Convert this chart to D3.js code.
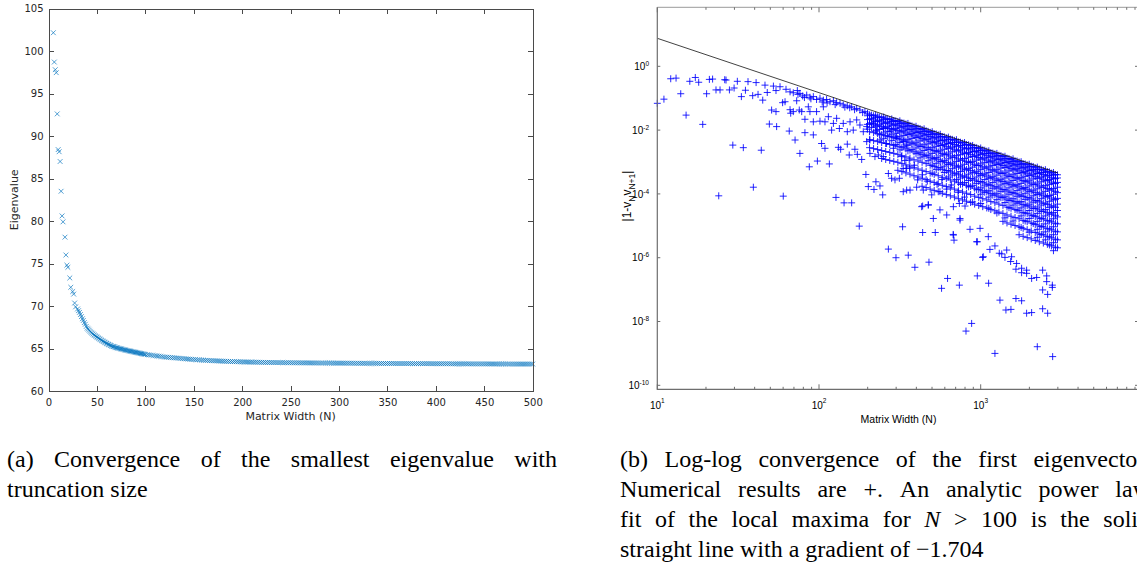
<!DOCTYPE html>
<html>
<head>
<meta charset="utf-8">
<script src="https://cdn.jsdelivr.net/npm/d3@7"></script>
<style>
  html, body { margin: 0; padding: 0; background: #fff; }
  svg { display: block; }
</style>
</head>
<body>
<svg id="fig" width="1137" height="572"></svg>
<script>
// ---------------- Panel (a): smallest eigenvalue against matrix width ----------------
const eigWidth = [5,6,7,8,9,10,11,12,13,14,15,17,18,19,20,22,23,25,26,27,28,30,
  31,32,33,34,35,36,37,38,39,40,41,42,43,44,45,46,47,48,49,50,
  51,52,53,54,55,56,57,58,59,60,61,62,63,64,65,66,67,68,69,70,
  71,72,73,74,75,76,77,78,79,80,81,82,83,84,85,86,87,88,89,90,
  91,92,93,94,95,96,97,98,99,100,
  102,104,106,108,110,112,114,116,118,120,
  122,124,126,128,130,132,134,136,138,140,142,144,146,148,150,
  152,154,156,158,160,162,164,166,168,170,172,174,176,178,180,182,184,186,188,190,192,194,196,198,200,
  202,204,206,208,210,212,214,216,218,220,222,224,226,228,230,232,234,236,238,240,242,244,246,248,250,
  252,254,256,258,260,262,264,266,268,270,272,274,276,278,280,282,284,286,288,290,292,294,296,298,300,
  302,304,306,308,310,312,314,316,318,320,322,324,326,328,330,332,334,336,338,340,342,344,346,348,350,
  352,354,356,358,360,362,364,366,368,370,372,374,376,378,380,382,384,386,388,390,392,394,396,398,400,
  402,404,406,408,410,412,414,416,418,420,422,424,426,428,430,432,434,436,438,440,442,444,446,448,450,
  452,454,456,458,460,462,464,466,468,470,472,474,476,478,480,482,484,486,488,490,492,494,496,498,500];

const eigValue = [102.15,98.7,97.8,97.45,92.6,88.4,88.15,87.0,83.5,80.6,79.9,78.1,76.0,74.8,74.55,73.3,72.2,71.7,71.4,70.35,69.9,69.65,
  69.45,69.25,69.0,68.75,68.5,68.3,68.05,67.85,67.6,67.4,67.28,67.15,67.02,66.9,66.8,66.7,66.6,66.52,66.43,66.35,
  66.27,66.19,66.11,66.03,65.95,65.88,65.81,65.74,65.67,65.6,65.54,65.48,65.42,65.36,65.3,65.26,65.22,65.18,65.14,65.1,
  65.07,65.04,65.01,64.98,64.95,64.92,64.89,64.86,64.83,64.8,64.77,64.75,64.72,64.7,64.67,64.65,64.62,64.6,64.57,64.55,
  64.52,64.5,64.47,64.45,64.42,64.4,64.37,64.35,64.32,64.3,
  64.27,64.24,64.21,64.18,64.15,64.12,64.09,64.06,64.03,64.00,
  63.98,63.96,63.94,63.92,63.90,63.88,63.86,63.84,63.82,63.80,63.78,63.76,63.74,63.72,63.70,
  63.69,63.67,63.66,63.64,63.63,63.61,63.60,63.58,63.57,63.56,63.55,63.54,63.53,63.52,63.51,63.50,63.49,63.48,63.47,63.46,63.46,63.45,63.44,63.43,63.42,
  63.42,63.41,63.41,63.40,63.40,63.39,63.39,63.38,63.38,63.37,63.37,63.36,63.36,63.36,63.35,63.35,63.35,63.34,63.34,63.34,63.34,63.33,63.33,63.33,63.33,
  63.32,63.32,63.32,63.32,63.31,63.31,63.31,63.31,63.31,63.30,63.30,63.30,63.30,63.30,63.29,63.29,63.29,63.29,63.29,63.29,63.28,63.28,63.28,63.28,63.28,
  63.28,63.28,63.27,63.27,63.27,63.27,63.27,63.26,63.26,63.26,63.26,63.26,63.26,63.25,63.25,63.25,63.25,63.25,63.25,63.25,63.24,63.24,63.24,63.24,63.24,
  63.24,63.24,63.24,63.23,63.23,63.23,63.23,63.23,63.23,63.23,63.23,63.23,63.22,63.22,63.22,63.22,63.22,63.22,63.22,63.22,63.22,63.22,63.21,63.21,63.21,
  63.21,63.21,63.21,63.21,63.21,63.21,63.21,63.20,63.20,63.20,63.20,63.20,63.20,63.20,63.20,63.20,63.20,63.19,63.19,63.19,63.19,63.19,63.19,63.19,63.19,
  63.19,63.19,63.18,63.18,63.18,63.18,63.18,63.18,63.18,63.18,63.18,63.18,63.17,63.17,63.17,63.17,63.17,63.17,63.17,63.17,63.17,63.17,63.17,63.17,63.17];

const eigXTicks = [0,50,100,150,200,250,300,350,400,450,500];
const eigYTicks = [60,65,70,75,80,85,90,95,100,105];

// ---------------- Panel (b): eigenvector residual, log10 N vs log10 |1 - v_N v_N+1| ----------------
// isolated points for small N
const smallWidthPoints = [[1.000,-1.16],[1.041,-1.03],[1.083,-0.39],[1.116,-0.37],[1.145,-0.86],[1.178,-1.53],[1.201,-0.47],
  [1.235,-0.35],[1.256,-0.50],[1.281,-1.82],[1.305,-0.86],[1.322,-0.41],[1.342,-0.40],[1.363,-0.74],[1.388,-0.74],[1.380,-4.06],
  [1.417,-0.42],[1.425,-0.43],[1.446,-0.74],[1.467,-2.47],[1.475,-0.68],[1.495,-0.47],[1.520,-0.95],[1.532,-2.55],[1.545,-0.75],
  [1.561,-0.48],[1.590,-0.92],[1.594,-3.79],[1.611,-0.51],[1.623,-0.88],[1.643,-2.63]];

// upper row approaching the envelope
const upperRowPoints = [[1.666,-0.59],[1.718,-0.62],[1.759,-0.64],[1.680,-0.82],[1.734,-0.76],[1.796,-0.72],[1.821,-0.80],
  [1.841,-0.83],[1.866,-0.76],[1.882,-0.85],[1.899,-0.93],[1.924,-0.90],[1.944,-0.97],[1.965,-0.95],[1.985,-1.04],[2.006,-1.00],
  [2.027,-1.06],[2.047,-1.04],[2.068,-1.11],[2.089,-1.08],[2.109,-1.14],[2.130,-1.16],[2.150,-1.21],[2.175,-1.24],[2.202,-1.27],
  [2.233,-1.32],[2.253,-1.37],[2.284,-1.42],[1.870,-0.88],[1.950,-1.02],[2.020,-1.12],[2.100,-1.20],[2.160,-1.28],[2.220,-1.36],
  [2.270,-1.45],[1.910,-0.98],[2.050,-1.15],[2.190,-1.30]];

const secondRowPoints = [[1.652,-1.06],[1.707,-1.37],[1.734,-1.42],[1.775,-1.14],[1.790,-1.11],[1.821,-1.36],[1.825,-1.47],[1.841,-1.42],
  [1.862,-1.08],[1.878,-1.37],[1.893,-1.42],[1.913,-1.66],[1.934,-1.27],[1.944,-1.42],[1.965,-1.74],[1.985,-1.42],[2.006,-1.72],
  [2.027,-1.27],[2.037,-1.74],[2.058,-1.58],[2.078,-2.00],[2.089,-1.79],[2.109,-1.63],[2.126,-1.95],[2.150,-1.79],[2.175,-2.05],
  [2.192,-1.74],[2.212,-2.00],[2.233,-1.68],[2.253,-1.84],[2.274,-2.05],[2.295,-1.89],[2.315,-2.31],[2.336,-1.79],[2.356,-2.00],
  [2.377,-2.31],[2.398,-1.95],[2.418,-2.42],[2.439,-2.05],[2.460,-2.57],[2.480,-2.21],[2.501,-2.62],[2.521,-2.36],[2.542,-2.47]];

const lowerScatterPoints = [[1.693,-1.81],[1.738,-1.89],[1.816,-2.03],[1.852,-2.31],[1.882,-2.73],[1.913,-2.08],[1.940,-3.15],
  [1.965,-2.15],[1.990,-2.97],[2.016,-2.42],[2.037,-2.57],[2.064,-3.06],[2.120,-2.54],[2.134,-2.60],[2.175,-2.44],[2.187,-2.78],
  [2.222,-2.60],[2.237,-2.76],[2.264,-2.92],[2.295,-2.36],[2.315,-2.73],[2.346,-2.83],[2.367,-2.78],[2.398,-2.83],[2.429,-3.36],
  [2.449,-3.51],[2.470,-3.56],[2.497,-3.51],[2.521,-3.20],[2.542,-3.20],[2.558,-2.94],[2.290,-3.39],[2.352,-3.62],[2.377,-3.75],
  [2.394,-4.03],[2.305,-3.77],[2.340,-3.86],[2.521,-3.93],[2.542,-3.88],
  [2.51,-2.83],[2.53,-2.95],[2.56,-3.19],[2.59,-3.10],[2.61,-3.56],[2.64,-3.40],[2.67,-3.60],[2.70,-3.35],[2.73,-3.70],
  [2.76,-3.55],[2.79,-3.85],[2.82,-3.72],[2.86,-3.95],[2.90,-4.10],[2.95,-4.25],[3.00,-4.30],[3.05,-4.45],[3.10,-4.60],
  [3.15,-4.75],[3.20,-4.85],[3.25,-5.05],[3.30,-5.20]];

const strandPoints = [[2.563,-3.88],[2.604,-3.79],[2.645,-3.88],[2.697,-4.03],[2.748,-3.93],[2.635,-4.40],[2.676,-4.35],
  [2.748,-4.50],[2.831,-4.40],[2.868,-4.30],[2.903,-4.38],[2.831,-5.29],[2.707,-4.77],[2.790,-4.66],[2.872,-4.77],[2.996,-5.08],
  [3.047,-5.34],[3.130,-5.88],[3.161,-5.76],[3.191,-5.97],[3.222,-6.18],[3.253,-6.33],[3.284,-6.49],[3.408,-6.75],[2.975,-5.50],
  [3.016,-5.97],[2.641,-4.38],[2.676,-4.34],[2.830,-5.27],[2.835,-5.45],[2.872,-4.82],[2.934,-5.11],[2.979,-5.50],[3.012,-5.99],
  [3.057,-5.74],[3.088,-5.63],[3.115,-5.86],[3.150,-5.99],[3.185,-6.12],[3.218,-6.36],[3.253,-6.47],[3.284,-6.39],[3.315,-6.65],
  [3.346,-6.62],[3.383,-6.39],[3.408,-6.57],[3.443,-6.86],[3.443,-6.93],[3.414,-7.15],[3.383,-7.01]];

const deepPoints = [[1.779,-4.07],[2.105,-4.11],[2.155,-4.28],[2.202,-4.28],[2.249,-5.01],[2.517,-5.03],[2.429,-5.73],
  [2.476,-6.00],[2.552,-5.92],[2.641,-5.21],[2.719,-5.21],[2.593,-6.30],[2.680,-6.14],[2.758,-6.96],[2.795,-6.65],[2.868,-6.86],
  [2.979,-6.57],[3.049,-6.80],[3.119,-7.33],[3.156,-7.64],[3.187,-7.62],[3.218,-7.28],[3.253,-7.35],[3.284,-7.74],[3.315,-7.72],
  [3.383,-7.60],[3.414,-7.74],[2.909,-8.30],[2.944,-8.06],[3.088,-9.00],[3.350,-8.79],[3.445,-9.10]];

// dense band under the local-maxima envelope: one column per log10 N
const bandLogN = [2.300,2.325,2.350,2.375,2.400,2.425,2.450,2.475,2.500,2.525,2.550,2.575,2.600,2.625,2.650,2.675,
  2.700,2.725,2.750,2.775,2.800,2.825,2.850,2.875,2.900,2.925,2.950,2.975,3.000,3.025,3.050,3.075,
  3.100,3.125,3.150,3.175,3.200,3.225,3.250,3.275,3.300,3.325,3.350,3.375,3.400,3.425,3.450,3.475];
const bandLogR = [
  [-1.47,-1.55,-1.67,-1.82,-1.97],
  [-1.53,-1.63,-1.77,-1.92],
  [-1.53,-1.61,-1.73,-1.88,-2.03],
  [-1.59,-1.69,-1.83,-1.98,-2.15],
  [-1.59,-1.67,-1.79,-1.94,-2.09,-2.27],
  [-1.65,-1.75,-1.89,-2.04,-2.21],
  [-1.65,-1.73,-1.85,-2.00,-2.15,-2.33],
  [-1.71,-1.81,-1.95,-2.10,-2.27,-2.45],
  [-1.71,-1.79,-1.91,-2.06,-2.21,-2.39],
  [-1.78,-1.88,-2.02,-2.17,-2.34,-2.52],
  [-1.79,-1.87,-1.99,-2.14,-2.29,-2.47,-2.65],
  [-1.87,-1.97,-2.11,-2.26,-2.43,-2.61],
  [-1.88,-1.96,-2.08,-2.23,-2.38,-2.56,-2.74],
  [-1.95,-2.05,-2.19,-2.34,-2.51,-2.69,-2.87],
  [-1.96,-2.04,-2.16,-2.31,-2.46,-2.64,-2.82],
  [-2.04,-2.14,-2.28,-2.43,-2.60,-2.78,-2.96],
  [-2.05,-2.13,-2.25,-2.40,-2.55,-2.73,-2.91,-3.10],
  [-2.12,-2.22,-2.36,-2.51,-2.68,-2.86,-3.04,-3.24],
  [-2.13,-2.21,-2.33,-2.48,-2.63,-2.81,-2.99,-3.18],
  [-2.21,-2.31,-2.45,-2.60,-2.77,-2.95,-3.13,-3.33],
  [-2.22,-2.30,-2.42,-2.57,-2.72,-2.90,-3.08,-3.27,-3.47],
  [-2.29,-2.39,-2.53,-2.68,-2.85,-3.03,-3.21,-3.41],
  [-2.30,-2.38,-2.50,-2.65,-2.80,-2.98,-3.16,-3.35,-3.55],
  [-2.38,-2.48,-2.62,-2.77,-2.94,-3.12,-3.30,-3.50,-3.70],
  [-2.39,-2.47,-2.59,-2.74,-2.89,-3.07,-3.25,-3.44,-3.64],
  [-2.46,-2.56,-2.70,-2.85,-3.02,-3.20,-3.38,-3.58,-3.78],
  [-2.48,-2.56,-2.68,-2.83,-2.98,-3.16,-3.34,-3.53,-3.73],
  [-2.55,-2.65,-2.79,-2.94,-3.11,-3.29,-3.47,-3.67,-3.87],
  [-2.56,-2.64,-2.76,-2.91,-3.06,-3.24,-3.42,-3.61,-3.81,-4.01],
  [-2.63,-2.73,-2.87,-3.02,-3.19,-3.37,-3.55,-3.75,-3.95],
  [-2.65,-2.73,-2.85,-3.00,-3.15,-3.33,-3.51,-3.70,-3.90,-4.10],
  [-2.72,-2.82,-2.96,-3.11,-3.28,-3.46,-3.64,-3.84,-4.04],
  [-2.73,-2.81,-2.93,-3.08,-3.23,-3.41,-3.59,-3.78,-3.98,-4.18],
  [-2.80,-2.90,-3.04,-3.19,-3.36,-3.54,-3.72,-3.92,-4.12],
  [-2.82,-2.90,-3.02,-3.17,-3.32,-3.50,-3.68,-3.87,-4.07,-4.27],
  [-2.89,-2.99,-3.13,-3.28,-3.45,-3.63,-3.81,-4.01,-4.21,-4.43],
  [-2.90,-2.98,-3.10,-3.25,-3.40,-3.58,-3.76,-3.95,-4.15,-4.35],
  [-2.97,-3.07,-3.21,-3.36,-3.53,-3.71,-3.89,-4.09,-4.29,-4.51],
  [-2.99,-3.07,-3.19,-3.34,-3.49,-3.67,-3.85,-4.04,-4.24,-4.44,-4.69],
  [-3.06,-3.16,-3.30,-3.45,-3.62,-3.80,-3.98,-4.18,-4.38,-4.60,-4.85],
  [-3.07,-3.15,-3.27,-3.42,-3.57,-3.75,-3.93,-4.12,-4.32,-4.52,-4.77],
  [-3.14,-3.24,-3.38,-3.53,-3.70,-3.88,-4.06,-4.26,-4.46,-4.68,-4.93],
  [-3.16,-3.24,-3.36,-3.51,-3.66,-3.84,-4.02,-4.21,-4.41,-4.61,-4.86,-5.11,-5.36],
  [-3.23,-3.33,-3.47,-3.62,-3.79,-3.97,-4.15,-4.35,-4.55,-4.77,-5.02,-5.27],
  [-3.24,-3.32,-3.44,-3.59,-3.74,-3.92,-4.10,-4.29,-4.49,-4.69,-4.94,-5.19,-5.44],
  [-3.31,-3.41,-3.55,-3.70,-3.87,-4.05,-4.23,-4.43,-4.63,-4.85,-5.10,-5.35,-5.60],
  [-3.33,-3.41,-3.53,-3.68,-3.83,-4.01,-4.19,-4.38,-4.58,-4.78,-5.03,-5.28,-5.53,-5.78],
  [-3.40,-3.50,-3.64,-3.79,-3.96,-4.14,-4.32,-4.52,-4.72,-4.94,-5.19,-5.44,-5.69]
];

// interleaved columns of the fan that spreads below the envelope
const fanLogN = [2.3125,2.3375,2.3625,2.3875,2.4125,2.4375,2.4625,2.4875,2.5125,2.5375,2.5625,2.5875,2.6125,2.6375,
  2.6625,2.6875,2.7125,2.7375,2.7625,2.7875,2.8125,2.8375,2.8625,2.8875,2.9125,2.9375,2.9625,2.9875,3.0125,3.0375,
  3.0625,3.0875,3.1125,3.1375,3.1625,3.1875,3.2125,3.2375,3.2625,3.2875,3.3125,3.3375,3.3625,3.3875,3.4125,3.4375,3.4625];
const fanLogR = [
  [-1.52,-1.65,-1.80,-2.05,-2.30,-2.55],
  [-1.55,-1.68,-1.83,-2.08,-2.33,-2.58],
  [-1.58,-1.71,-1.86,-2.11,-2.36,-2.61],
  [-1.61,-1.74,-1.89,-2.14,-2.39,-2.64,-2.89],
  [-1.64,-1.77,-1.92,-2.17,-2.42,-2.67,-2.92],
  [-1.67,-1.80,-1.95,-2.20,-2.45,-2.70,-2.95],
  [-1.70,-1.83,-1.98,-2.23,-2.48,-2.73,-2.98],
  [-1.73,-1.86,-2.01,-2.26,-2.51,-2.76,-3.01,-3.26],
  [-1.77,-1.90,-2.05,-2.30,-2.55,-2.80,-3.05,-3.30],
  [-1.81,-1.94,-2.09,-2.34,-2.59,-2.84,-3.09,-3.34],
  [-1.85,-1.98,-2.13,-2.38,-2.63,-2.88,-3.13,-3.38],
  [-1.90,-2.03,-2.18,-2.43,-2.68,-2.93,-3.18,-3.43],
  [-1.94,-2.07,-2.22,-2.47,-2.72,-2.97,-3.22,-3.47],
  [-1.98,-2.11,-2.26,-2.51,-2.76,-3.01,-3.26,-3.51,-3.76],
  [-2.02,-2.15,-2.30,-2.55,-2.80,-3.05,-3.30,-3.55,-3.80],
  [-2.07,-2.20,-2.35,-2.60,-2.85,-3.10,-3.35,-3.60,-3.85],
  [-2.11,-2.24,-2.39,-2.64,-2.89,-3.14,-3.39,-3.64,-3.89],
  [-2.15,-2.28,-2.43,-2.68,-2.93,-3.18,-3.43,-3.68,-3.93],
  [-2.20,-2.33,-2.48,-2.73,-2.98,-3.23,-3.48,-3.73,-3.98],
  [-2.24,-2.37,-2.52,-2.77,-3.02,-3.27,-3.52,-3.77,-4.02],
  [-2.28,-2.41,-2.56,-2.81,-3.06,-3.31,-3.56,-3.81,-4.06],
  [-2.32,-2.45,-2.60,-2.85,-3.10,-3.35,-3.60,-3.85,-4.10],
  [-2.37,-2.50,-2.65,-2.90,-3.15,-3.40,-3.65,-3.90,-4.15],
  [-2.41,-2.54,-2.69,-2.94,-3.19,-3.44,-3.69,-3.94,-4.19],
  [-2.45,-2.58,-2.73,-2.98,-3.23,-3.48,-3.73,-3.98,-4.23],
  [-2.49,-2.62,-2.77,-3.02,-3.27,-3.52,-3.77,-4.02,-4.27],
  [-2.54,-2.67,-2.82,-3.07,-3.32,-3.57,-3.82,-4.07,-4.32],
  [-2.58,-2.71,-2.86,-3.11,-3.36,-3.61,-3.86,-4.11,-4.36],
  [-2.62,-2.75,-2.90,-3.15,-3.40,-3.65,-3.90,-4.15,-4.40],
  [-2.66,-2.79,-2.94,-3.19,-3.44,-3.69,-3.94,-4.19,-4.44],
  [-2.71,-2.84,-2.99,-3.24,-3.49,-3.74,-3.99,-4.24,-4.49],
  [-2.75,-2.88,-3.03,-3.28,-3.53,-3.78,-4.03,-4.28,-4.53],
  [-2.79,-2.92,-3.07,-3.32,-3.57,-3.82,-4.07,-4.32,-4.57],
  [-2.83,-2.96,-3.11,-3.36,-3.61,-3.86,-4.11,-4.36,-4.61,-4.86],
  [-2.88,-3.01,-3.16,-3.41,-3.66,-3.91,-4.16,-4.41,-4.66,-4.91],
  [-2.92,-3.05,-3.20,-3.45,-3.70,-3.95,-4.20,-4.45,-4.70,-4.95],
  [-2.96,-3.09,-3.24,-3.49,-3.74,-3.99,-4.24,-4.49,-4.74,-4.99],
  [-3.00,-3.13,-3.28,-3.53,-3.78,-4.03,-4.28,-4.53,-4.78,-5.03,-5.28],
  [-3.05,-3.18,-3.33,-3.58,-3.83,-4.08,-4.33,-4.58,-4.83,-5.08,-5.33],
  [-3.09,-3.22,-3.37,-3.62,-3.87,-4.12,-4.37,-4.62,-4.87,-5.12,-5.37],
  [-3.13,-3.26,-3.41,-3.66,-3.91,-4.16,-4.41,-4.66,-4.91,-5.16,-5.41],
  [-3.18,-3.31,-3.46,-3.71,-3.96,-4.21,-4.46,-4.71,-4.96,-5.21,-5.46],
  [-3.22,-3.35,-3.50,-3.75,-4.00,-4.25,-4.50,-4.75,-5.00,-5.25,-5.50],
  [-3.26,-3.39,-3.54,-3.79,-4.04,-4.29,-4.54,-4.79,-5.04,-5.29,-5.54],
  [-3.30,-3.43,-3.58,-3.83,-4.08,-4.33,-4.58,-4.83,-5.08,-5.33,-5.58],
  [-3.35,-3.48,-3.63,-3.88,-4.13,-4.38,-4.63,-4.88,-5.13,-5.38,-5.63],
  [-3.39,-3.52,-3.67,-3.92,-4.17,-4.42,-4.67,-4.92,-5.17,-5.42,-5.67]
];

// power-law fit of the local maxima (N > 100)
const fitGradient = -1.704;
const fitLogAt10 = 0.878;
const fitWidths = [10, 3000];

const residualTickExps = [0, -2, -4, -6, -8, -10];
const widthTickExps = [1, 2, 3, 4];
const minorMultiples = [2, 3, 4, 5, 6, 7, 8, 9];

// captions
const captionA = [
  { words: ["(a)", "Convergence", "of", "the", "smallest", "eigenvalue", "with"], justify: true },
  { words: ["truncation", "size"], justify: false }
];
const captionB = [
  { words: ["(b)", "Log-log", "convergence", "of", "the", "first", "eigenvector."], justify: true },
  { words: ["Numerical", "results", "are", "+.", "An", "analytic", "power", "law"], justify: true },
  { words: ["fit", "of", "the", "local", "maxima", "for", "*N", ">", "100", "is", "the", "solid"], justify: true },
  { words: ["straight", "line", "with", "a", "gradient", "of", "\u22121.704"], justify: false }
];

// ---------------------------------------------------------------------------
const svg = d3.select("#fig");
svg.append("rect").attr("width", 1137).attr("height", 572).attr("fill", "#fff");

// ---- panel (a) ----
const ax = d3.scaleLinear().domain([0, 500]).range([48.5, 532.7]);
const ay = d3.scaleLinear().domain([60, 105]).range([391, 8.5]);
const gA = svg.append("g");
const axisCol = "#4a4a4a";

gA.append("g").selectAll("path").data(eigWidth).join("path")
  .attr("transform", (d, i) => `translate(${ax(d)},${ay(eigValue[i])})`)
  .attr("d", "M-2.4,-2.4L2.4,2.4M-2.4,2.4L2.4,-2.4")
  .attr("fill", "none").attr("stroke", "#0072bd")
  .attr("stroke-width", 0.9).attr("stroke-opacity", 0.75);

function styleAxis(g, fam, size, col) {
  g.selectAll("path.domain").attr("stroke", col).attr("stroke-width", 1).attr("shape-rendering", "crispEdges");
  g.selectAll(".tick line").attr("stroke", col).attr("stroke-width", 1).attr("shape-rendering", "crispEdges");
  g.selectAll("text").attr("font-family", fam).attr("font-size", size).attr("fill", col);
}

const aBottom = gA.append("g").attr("transform", `translate(0,${ay(60)})`)
  .call(d3.axisBottom(ax).tickValues(eigXTicks).tickSize(-5).tickSizeOuter(0).tickPadding(8));
styleAxis(aBottom, "DejaVu Sans", 10, "#262626");
aBottom.selectAll(".tick line").attr("stroke", axisCol);
aBottom.select("path.domain").attr("stroke", axisCol);

const aTop = gA.append("g").attr("transform", `translate(0,${ay(105)})`)
  .call(d3.axisTop(ax).tickValues(eigXTicks).tickSize(-5).tickSizeOuter(0).tickFormat(""));
styleAxis(aTop, "DejaVu Sans", 10, axisCol);

const aLeft = gA.append("g").attr("transform", `translate(${ax(0)},0)`)
  .call(d3.axisLeft(ay).tickValues(eigYTicks).tickSize(-5).tickSizeOuter(0).tickPadding(5));
styleAxis(aLeft, "DejaVu Sans", 10, "#262626");
aLeft.selectAll(".tick line").attr("stroke", axisCol);
aLeft.select("path.domain").attr("stroke", axisCol);

const aRight = gA.append("g").attr("transform", `translate(${ax(500)},0)`)
  .call(d3.axisRight(ay).tickValues(eigYTicks).tickSize(-5).tickSizeOuter(0).tickFormat(""));
styleAxis(aRight, "DejaVu Sans", 10, axisCol);

gA.append("text").attr("x", (ax(0) + ax(500)) / 2).attr("y", 419.5)
  .attr("text-anchor", "middle").attr("font-family", "DejaVu Sans").attr("font-size", 11)
  .attr("fill", "#262626").text("Matrix Width (N)");
gA.append("text").attr("transform", `translate(18,${(ay(60) + ay(105)) / 2}) rotate(-90)`)
  .attr("text-anchor", "middle").attr("font-family", "DejaVu Sans").attr("font-size", 11)
  .attr("fill", "#262626").text("Eigenvalue");

// ---- panel (b) ----
const bx = d3.scaleLog().domain([10, 1e4]).range([657.3, 1142.4]);
const by = d3.scaleLog().domain([Math.pow(10, -10.125), Math.pow(10, 1.85)]).range([389.3, 7.3]);
const gB = svg.append("g");
const bAxisCol = "#6e6e6e";

svg.append("defs").append("clipPath").attr("id", "clipB").append("rect")
  .attr("x", bx(10) - 4).attr("y", by.range()[1]).attr("width", bx(1e4) - bx(10) + 4)
  .attr("height", by.range()[0] - by.range()[1]);

const pts = [];
[smallWidthPoints, upperRowPoints, secondRowPoints, lowerScatterPoints, strandPoints, deepPoints]
  .forEach(arr => arr.forEach(p => pts.push(p)));
bandLogN.forEach((c, i) => bandLogR[i].forEach(r => pts.push([c, r])));
fanLogN.forEach((c, i) => fanLogR[i].forEach(r => pts.push([c, r])));

const plotB = gB.append("g").attr("clip-path", "url(#clipB)");
plotB.append("g").selectAll("path").data(pts).join("path")
  .attr("transform", d => `translate(${bx(Math.pow(10, d[0]))},${by(Math.pow(10, d[1]))})`)
  .attr("d", "M-3.5,0H3.5M0,-3.5V3.5")
  .attr("fill", "none").attr("stroke", "#0000ff")
  .attr("stroke-width", 1).attr("stroke-opacity", 0.85);

const fitLine = d3.line()
  .x(n => bx(n))
  .y(n => by(Math.pow(10, fitLogAt10 + fitGradient * (Math.log10(n) - 1))));
plotB.append("path").attr("d", fitLine(fitWidths))
  .attr("fill", "none").attr("stroke", "#111").attr("stroke-width", 0.8);

// frame
const xL = bx(10), xR = bx(1e4), yT = by.range()[1], yB = by.range()[0];
gB.append("path").attr("d", `M${xL},${yT}V${yB}H${xR}`).attr("fill", "none")
  .attr("stroke", bAxisCol).attr("stroke-width", 1.2);
gB.append("path").attr("d", `M${xL},${yT}H${xR}V${yB}`).attr("fill", "none")
  .attr("stroke", "#9a9a9a").attr("stroke-width", 1);

// x ticks (major + minor), bottom and top, pointing inward
const majorX = widthTickExps.map(e => Math.pow(10, e));
const minorX = [];
widthTickExps.slice(0, -1).forEach(e => minorMultiples.forEach(m => minorX.push(m * Math.pow(10, e))));
const tickG = gB.append("g").attr("stroke", bAxisCol).attr("stroke-width", 1);
majorX.forEach(v => {
  tickG.append("line").attr("x1", bx(v)).attr("x2", bx(v)).attr("y1", yB).attr("y2", yB - 5);
  tickG.append("line").attr("x1", bx(v)).attr("x2", bx(v)).attr("y1", yT).attr("y2", yT + 5);
});
minorX.forEach(v => {
  tickG.append("line").attr("x1", bx(v)).attr("x2", bx(v)).attr("y1", yB).attr("y2", yB - 2.5);
  tickG.append("line").attr("x1", bx(v)).attr("x2", bx(v)).attr("y1", yT).attr("y2", yT + 2.5);
});
residualTickExps.forEach(e => {
  const y = by(Math.pow(10, e));
  tickG.append("line").attr("x1", xL).attr("x2", xL + 3).attr("y1", y).attr("y2", y);
  tickG.append("line").attr("x1", xR).attr("x2", 1135).attr("y1", y).attr("y2", y);
});

// tick labels
const labFont = "Liberation Sans";
residualTickExps.forEach(e => {
  const y = by(Math.pow(10, e));
  const t = gB.append("text").attr("x", 649).attr("y", y + 3.7).attr("text-anchor", "end")
    .attr("font-family", labFont).attr("font-size", 10).attr("fill", "#000");
  t.append("tspan").text("10");
  t.append("tspan").attr("dy", -4).attr("font-size", 6.5).text(String(e));
});
widthTickExps.slice(0, -1).forEach(e => {
  const x = bx(Math.pow(10, e));
  const t = gB.append("text").attr("x", x).attr("y", 409.3).attr("text-anchor", "middle")
    .attr("font-family", labFont).attr("font-size", 10).attr("fill", "#000");
  t.append("tspan").text("10");
  t.append("tspan").attr("dy", -6).attr("font-size", 6.5).text(String(e));
});

gB.append("text").attr("x", 898.5).attr("y", 423).attr("text-anchor", "middle")
  .attr("font-family", labFont).attr("font-size", 10.5).attr("fill", "#000").text("Matrix Width (N)");

const yl = gB.append("text").attr("transform", "translate(631,196) rotate(-90)")
  .attr("text-anchor", "middle").attr("font-family", labFont).attr("font-size", 12).attr("fill", "#000");
yl.append("tspan").text("|1-v");
yl.append("tspan").attr("dy", 3.5).attr("font-size", 8.5).text("N");
yl.append("tspan").attr("dy", -3.5).text("v");
yl.append("tspan").attr("dy", 3.5).attr("font-size", 8.5).text("N+1");
yl.append("tspan").attr("dy", -3.5).text("|");

// ---- captions (justified lines) ----
function caption(lines, x0, y0, width, lead) {
  const g = svg.append("g").attr("font-family", "Liberation Serif").attr("font-size", 24).attr("fill", "#000");
  lines.forEach((ln, li) => {
    const y = y0 + li * lead;
    const nodes = ln.words.map(w => {
      const it = w.startsWith("*");
      return g.append("text").attr("y", y).attr("font-style", it ? "italic" : null).text(it ? w.slice(1) : w);
    });
    const widths = nodes.map(n => n.node().getComputedTextLength());
    const gap = ln.justify ? (width - d3.sum(widths)) / (nodes.length - 1) : 6;
    let cx = x0;
    nodes.forEach((n, i) => { n.attr("x", cx); cx += widths[i] + gap; });
  });
}
caption(captionA, 7, 467, 550, 30);
caption(captionB, 620, 467, 530, 30);
</script>
</body>
</html>
